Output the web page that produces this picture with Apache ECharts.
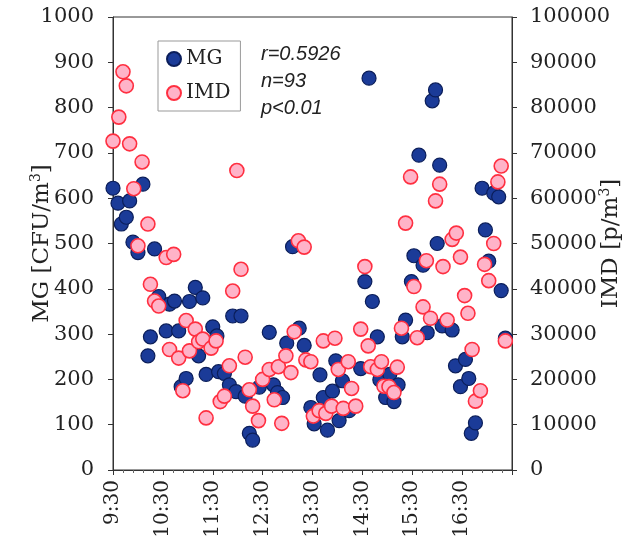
<!DOCTYPE html>
<html>
<head>
<meta charset="utf-8">
<script src="https://cdn.jsdelivr.net/npm/echarts@6/dist/echarts.min.js"></script>
<style>
  html, body { margin: 0; padding: 0; background: #fff; }
  #chart { width: 641px; height: 538px; }
</style>
</head>
<body>
<div id="chart"></div>
<script>
// minutes after 9:30
const mgTime = [0, 6, 10, 16, 20, 24, 30, 36, 42, 45, 50, 55, 64, 68, 74, 79, 82, 88, 92, 99,
  103, 108, 112, 120, 125, 127, 134, 140, 144, 148, 154, 159, 164, 168, 176, 188, 193, 198, 204, 209,
  216, 224, 230, 238, 242, 249, 253, 258, 264, 268, 272, 276, 284, 298, 303, 308, 312, 318, 321, 328,
  333, 338, 343, 348, 352, 359, 362, 368, 373, 378, 384, 388, 390, 393, 396, 408, 412, 418, 424, 428,
  431, 436, 444, 448, 452, 458, 464, 467, 472];
const mgValue = [622, 589, 543, 558, 594, 503, 480, 631, 252, 294, 488, 383, 307, 366, 373, 307, 184, 202, 372, 403,
  252, 380, 211, 316, 296, 217, 213, 188, 340, 173, 340, 163, 81, 66, 183, 304, 188, 171, 160, 280,
  493, 313, 275, 138, 102, 210, 160, 88, 174, 241, 109, 197, 131, 224, 416, 865, 372, 294, 199, 160,
  211, 151, 188, 294, 331, 416, 473, 695, 452, 303, 815, 839, 500, 673, 318, 309, 230, 184, 244, 202,
  81, 104, 622, 530, 461, 611, 603, 396, 291];

const imdTime = [0, 7, 12, 16, 20, 25, 30, 35, 42, 45, 50, 55, 64, 68, 73, 79, 84, 88, 92, 99,
  103, 108, 112, 118, 124, 129, 134, 140, 144, 149, 154, 159, 164, 168, 175, 180, 188, 194, 199, 203,
  208, 214, 218, 223, 230, 232, 238, 241, 248, 253, 256, 263, 267, 271, 277, 283, 287, 292, 298, 303,
  307, 310, 318, 323, 326, 332, 338, 342, 347, 352, 358, 362, 366, 373, 377, 382, 388, 393, 397, 402,
  408, 413, 418, 423, 427, 432, 436, 442, 447, 452, 458, 463, 467, 472];
const imdValue = [72600, 77900, 87900, 84800, 72000, 62100, 49500, 68000, 54300, 41000, 37300, 36200, 46900, 26600, 47600, 24700, 17500, 33000, 26300, 31100,
  28300, 28900, 11500, 26900, 28500, 15100, 16300, 23000, 39500, 66100, 44300, 24900, 17700, 14100, 10900, 20000, 22200, 15500, 22800, 10300,
  25200, 21500, 30500, 50600, 49200, 24300, 23900, 11900, 13100, 28500, 12500, 14100, 29100, 22200, 13600, 23900, 18000, 14100, 31100, 44900,
  27400, 22800, 22200, 23900, 18500, 18400, 17100, 22700, 31300, 54500, 64700, 40500, 29200, 36000, 46200, 33500, 59400, 63100, 44900, 33100,
  50900, 52300, 47000, 38500, 34600, 26600, 15200, 17500, 45400, 41800, 50000, 63600, 67100, 28500];

const timeTicks = ['9:30', '10:30', '11:30', '12:30', '13:30', '14:30', '15:30', '16:30'];
const statsLines = ['r=0.5926', 'n=93', 'p<0.01'];

const serif = 'DejaVu Serif';
const ink = '#222';

let myChart = echarts.init(document.getElementById('chart'));

myChart.setOption({
  animation: false,
  grid: {
    left: 113, right: 129, top: 17, bottom: 68,
    containLabel: false,
    outerBoundsMode: 'none',
    show: true, borderColor: '#333', borderWidth: 1
  },
  legend: {
    orient: 'vertical',
    left: 158, top: 41,
    padding: [8, 10, 8, 8],
    itemGap: 14,
    itemWidth: 14, itemHeight: 14,
    borderColor: '#999', borderWidth: 1,
    textStyle: { fontFamily: serif, fontSize: 20, color: ink },
    data: ['MG', 'IMD']
  },
  graphic: statsLines.map((t, i) => ({
    type: 'text',
    left: 261, top: 44 + i * 27,
    style: { text: t, font: 'italic 20px "Liberation Sans"', fill: ink }
  })),
  xAxis: {
    type: 'value',
    min: 0, max: 480, interval: 60,
    axisLine: { lineStyle: { color: '#333' } },
    axisTick: { length: 5, lineStyle: { color: '#333' } },
    minorTick: { show: true, splitNumber: 5, length: 3, lineStyle: { color: '#666' } },
    splitLine: { show: false },
    axisLabel: {
      rotate: 90, margin: 10,
      fontFamily: serif, fontSize: 20, color: ink,
      formatter: v => (v / 60 < timeTicks.length ? timeTicks[v / 60] : '')
    }
  },
  yAxis: [
    {
      type: 'value', min: 0, max: 1000, interval: 100,
      name: 'MG [CFU/m{sup|3}]',
      nameLocation: 'middle', nameRotate: 90, nameGap: 58,
      nameMoveOverlap: false,
      nameTextStyle: {
        fontFamily: serif, fontSize: 23, color: ink,
        rich: { sup: { fontFamily: serif, fontSize: 14, color: ink, verticalAlign: 'top', lineHeight: 26 } }
      },
      axisLine: { show: true, lineStyle: { color: '#333' } },
      axisTick: { show: true, length: 5, lineStyle: { color: '#333' } },
      splitLine: { show: false },
      axisLabel: { fontFamily: serif, fontSize: 21, color: ink, margin: 19, formatter: v => String(v) }
    },
    {
      type: 'value', min: 0, max: 100000, interval: 10000,
      position: 'right',
      name: 'IMD [p/m{sup|3}]',
      nameLocation: 'middle', nameRotate: 90, nameGap: 86,
      nameMoveOverlap: false,
      nameTextStyle: {
        fontFamily: serif, fontSize: 23, color: ink,
        rich: { sup: { fontFamily: serif, fontSize: 14, color: ink, verticalAlign: 'top', lineHeight: 26 } }
      },
      axisLine: { show: true, lineStyle: { color: '#333' } },
      axisTick: { show: true, length: 5, lineStyle: { color: '#333' } },
      splitLine: { show: false },
      axisLabel: { fontFamily: serif, fontSize: 21, color: ink, margin: 18, formatter: v => String(v) }
    }
  ],
  series: [
    {
      name: 'MG', type: 'scatter', yAxisIndex: 0,
      symbolSize: 14,
      itemStyle: { color: '#1b3b98', borderColor: '#0b1e5a', borderWidth: 1.2, opacity: 1 },
      data: mgTime.map((t, i) => [t, mgValue[i]])
    },
    {
      name: 'IMD', type: 'scatter', yAxisIndex: 1,
      symbolSize: 14,
      itemStyle: { color: '#ffb3c8', borderColor: '#ff2f40', borderWidth: 1.6, opacity: 1 },
      data: imdTime.map((t, i) => [t, imdValue[i]])
    }
  ]
});
</script>
</body>
</html>
